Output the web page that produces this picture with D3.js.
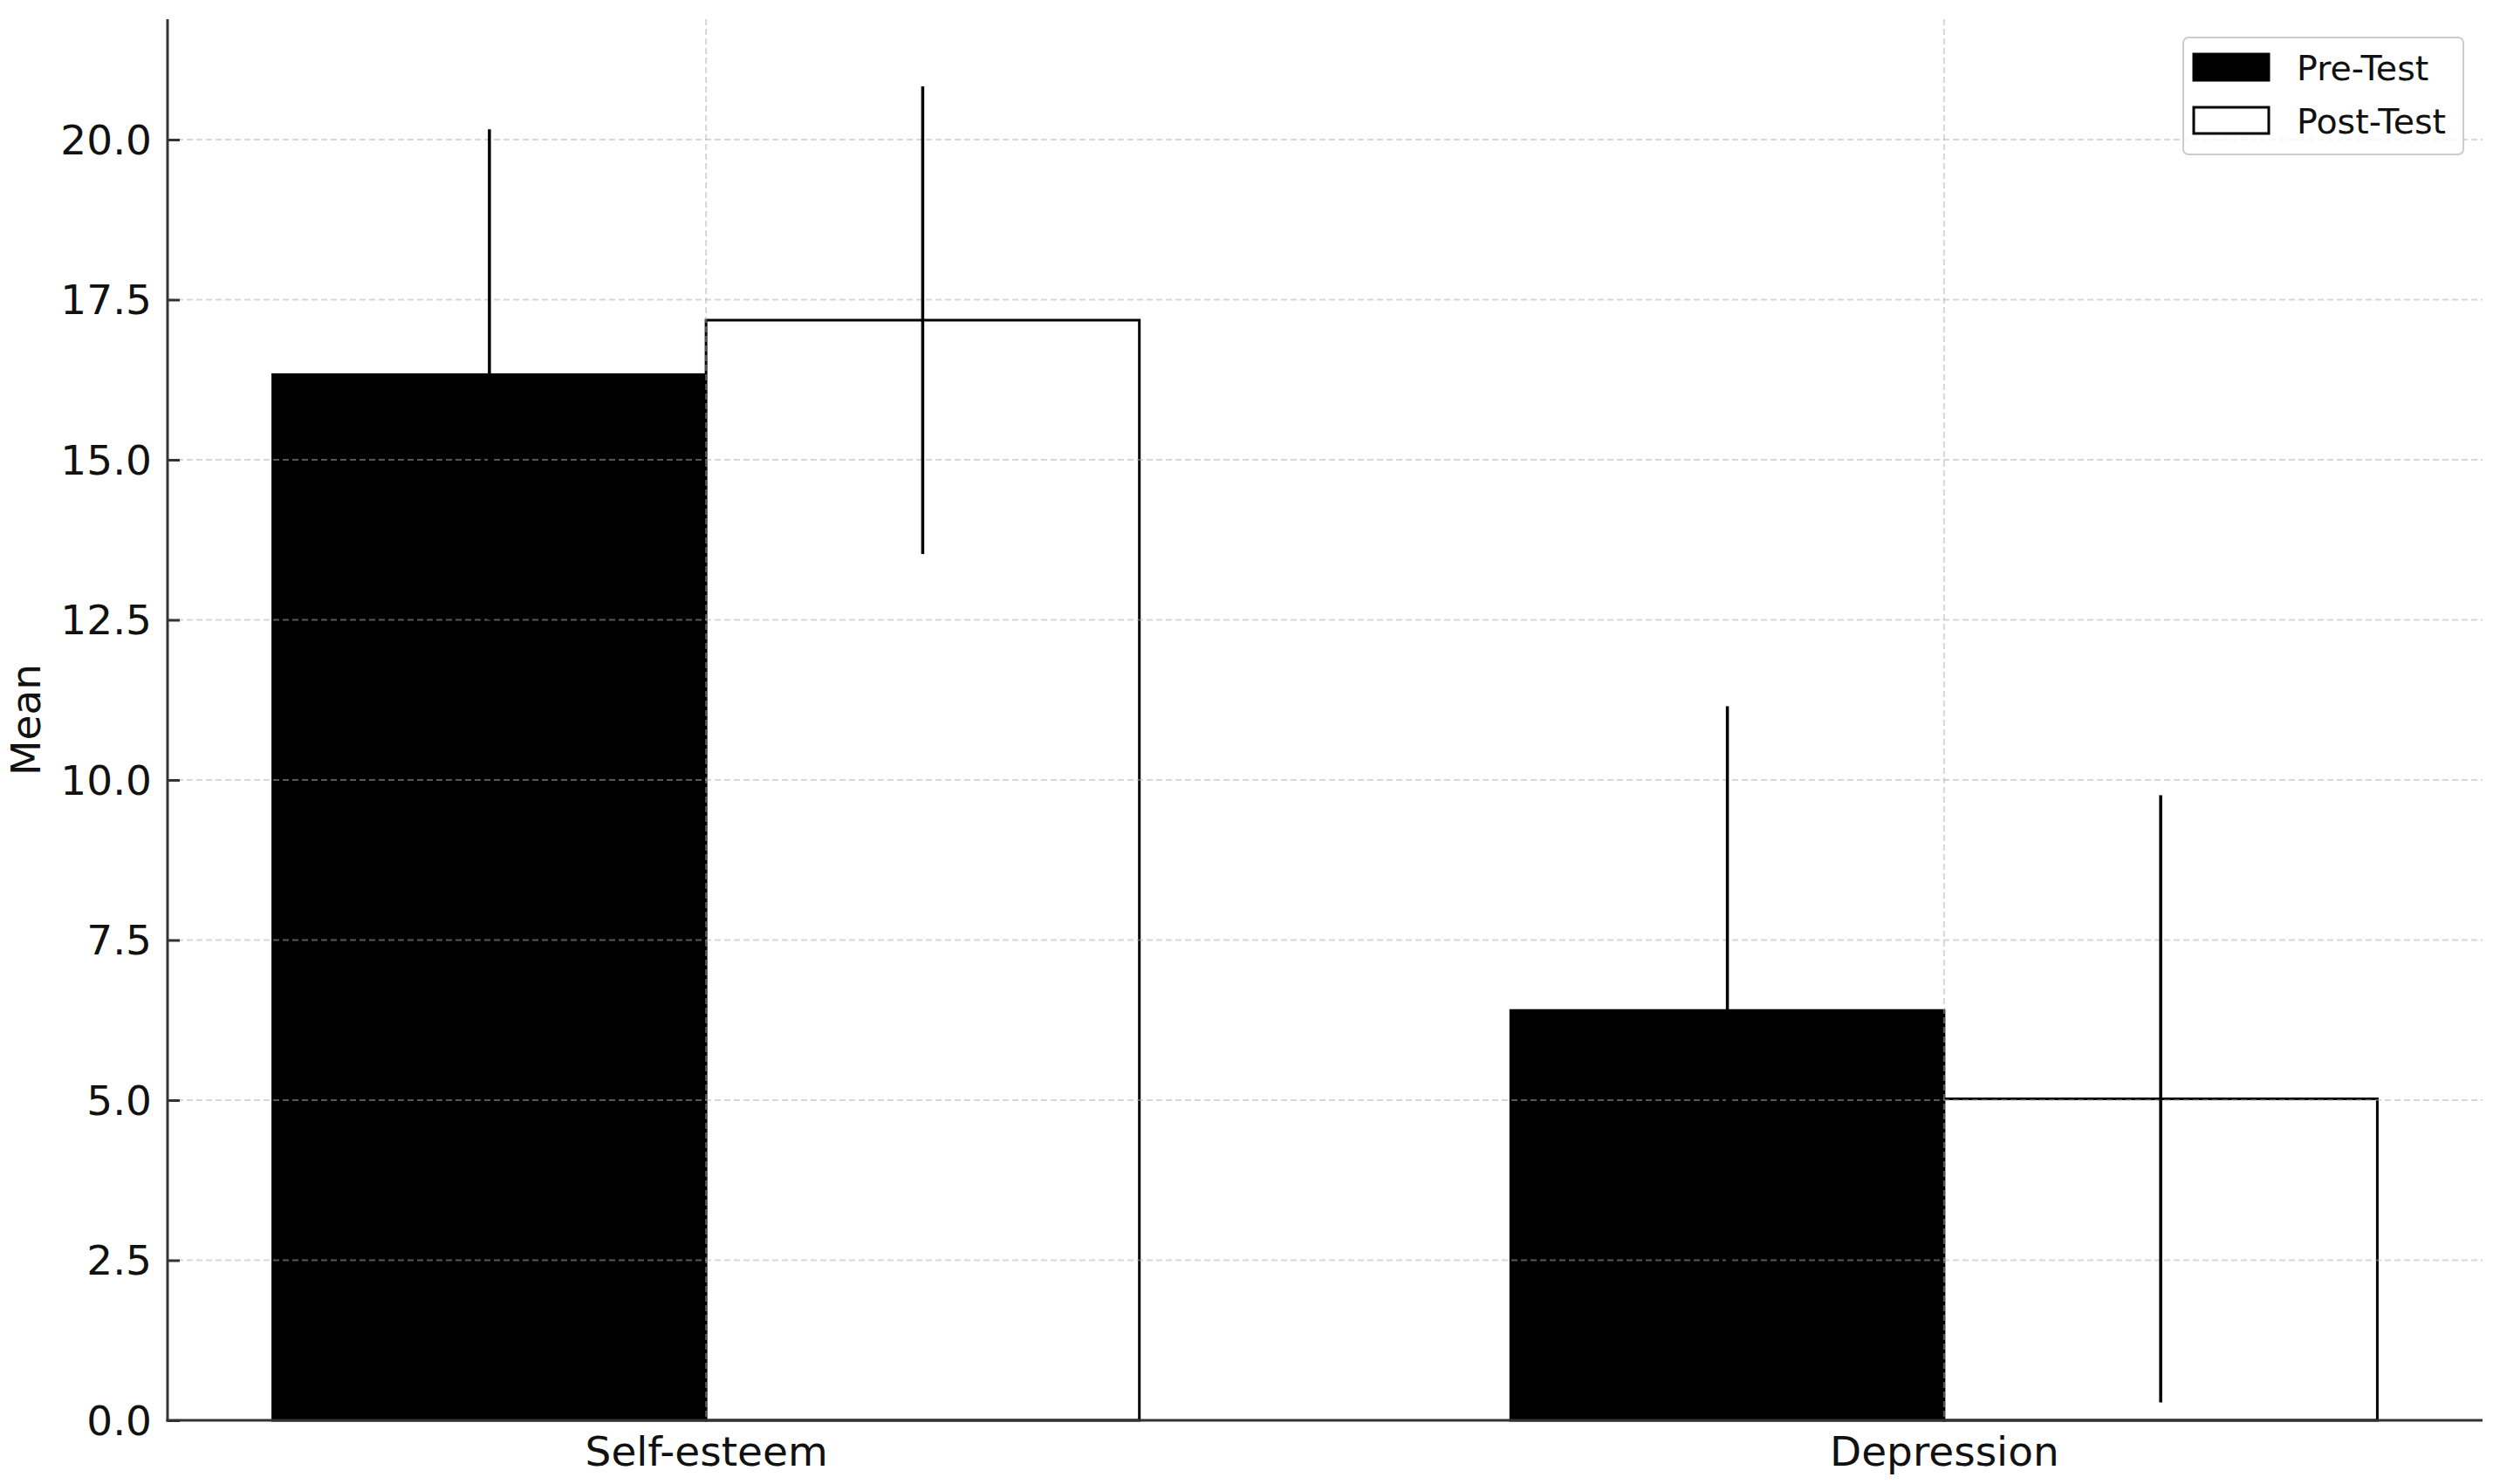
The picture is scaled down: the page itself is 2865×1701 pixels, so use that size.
<!DOCTYPE html>
<html>
<head>
<meta charset="utf-8">
<script src="https://cdn.jsdelivr.net/npm/d3@7"></script>
<style>
  html, body { margin: 0; padding: 0; background: #fff; }
  svg { display: block; }
  text { font-family: "DejaVu Sans", sans-serif; fill: #111; }
</style>
</head>
<body>
<svg id="chart" width="2865" height="1701"></svg>
<script>
const categories = ["Self-esteem", "Depression"];
const seriesNames = ["Pre-Test", "Post-Test"];
const preMeans = [16.33, 6.40];
const postMeans = [17.18, 5.02];
const preSD = [3.83, 4.75];
const postSD = [3.65, 4.74];
const yTicks = [0, 2.5, 5, 7.5, 10, 12.5, 15, 17.5, 20];

(function () {
const plotL = 192, plotR = 2845, plotT = 22, plotB = 1628;
const barW = 0.35;

const svg = d3.select("#chart");

const x = d3.scaleLinear().domain([-0.435, 1.435]).range([plotL, plotR]);
const y = d3.scaleLinear().domain([0, 21.88]).range([plotB, plotT]);

const series = [
  { name: seriesNames[0], means: preMeans, sd: preSD, offset: -barW / 2, fill: "#000" },
  { name: seriesNames[1], means: postMeans, sd: postSD, offset: barW / 2, fill: "#fff" }
];

// bars
series.forEach(s => {
  svg.append("g").selectAll("rect")
    .data(categories.map((c, i) => ({ i, v: s.means[i] })))
    .join("rect")
    .attr("x", d => x(d.i + s.offset - barW / 2))
    .attr("width", d => x(barW) - x(0))
    .attr("y", d => y(d.v))
    .attr("height", d => y(0) - y(d.v))
    .attr("fill", s.fill)
    .attr("stroke", "#000")
    .attr("stroke-width", 3);
});

// grid (drawn above bars)
const grid = svg.append("g").attr("stroke", "#b0b0b0").attr("stroke-opacity", 0.5)
  .attr("stroke-width", 2).attr("stroke-dasharray", "7,4");
grid.selectAll("line.h").data(yTicks).join("line").attr("class", "h")
  .attr("x1", plotL).attr("x2", plotR)
  .attr("y1", d => y(d)).attr("y2", d => y(d));
grid.selectAll("line.v").data(categories.map((c, i) => i)).join("line").attr("class", "v")
  .attr("x1", d => x(d)).attr("x2", d => x(d))
  .attr("y1", plotT).attr("y2", plotB);

// error bars
series.forEach(s => {
  svg.append("g").selectAll("line")
    .data(categories.map((c, i) => ({ i, v: s.means[i], e: s.sd[i] })))
    .join("line")
    .attr("x1", d => x(d.i + s.offset)).attr("x2", d => x(d.i + s.offset))
    .attr("y1", d => y(d.v - d.e)).attr("y2", d => y(d.v + d.e))
    .attr("stroke", "#000").attr("stroke-width", 3.5);
});

// y axis
const yAxis = d3.axisLeft(y).tickValues(yTicks).tickFormat(d3.format(".1f"))
  .tickSizeInner(-14).tickSizeOuter(0).tickPadding(18);
const gy = svg.append("g").attr("transform", `translate(${plotL},0)`).call(yAxis);
gy.select(".domain").remove();
gy.selectAll(".tick line").attr("stroke", "#333").attr("stroke-width", 3);
gy.selectAll(".tick text").attr("font-size", 47).attr("font-family", "DejaVu Sans")
  .attr("fill", "#111").attr("x", -18).attr("dy", "0.35em");

// x axis
const xAxis = d3.axisBottom(x).tickValues(categories.map((c, i) => i))
  .tickFormat(i => categories[i]).tickSize(0).tickPadding(10);
const gx = svg.append("g").attr("transform", `translate(0,${plotB})`).call(xAxis);
gx.select(".domain").remove();
gx.selectAll(".tick text").attr("font-size", 47).attr("font-family", "DejaVu Sans")
  .attr("fill", "#111").attr("dy", "0.9em");

// spines
svg.append("line").attr("x1", plotL).attr("x2", plotL).attr("y1", plotT).attr("y2", plotB + 1.5)
  .attr("stroke", "#333").attr("stroke-width", 3);
svg.append("line").attr("x1", plotL - 1.5).attr("x2", plotR).attr("y1", plotB).attr("y2", plotB)
  .attr("stroke", "#333").attr("stroke-width", 3);

// y label
svg.append("text").attr("transform", `translate(46,${(plotT + plotB) / 2}) rotate(-90)`)
  .attr("text-anchor", "middle").attr("font-size", 47).text("Mean");

// legend
const lg = svg.append("g");
lg.append("rect").attr("x", 2502).attr("y", 43).attr("width", 321).attr("height", 134)
  .attr("rx", 6).attr("fill", "#fff").attr("fill-opacity", 0.8)
  .attr("stroke", "#cccccc").attr("stroke-width", 2);
series.forEach((s, k) => {
  const yy = 62 + k * 61;
  lg.append("rect").attr("x", 2514).attr("y", yy).attr("width", 86).attr("height", 30)
    .attr("fill", s.fill).attr("stroke", "#000").attr("stroke-width", 3);
  lg.append("text").attr("x", 2632).attr("y", yy + 30).attr("font-size", 39.5)
    .attr("fill", "#333").text(s.name);
});
})();
</script>
</body>
</html>
